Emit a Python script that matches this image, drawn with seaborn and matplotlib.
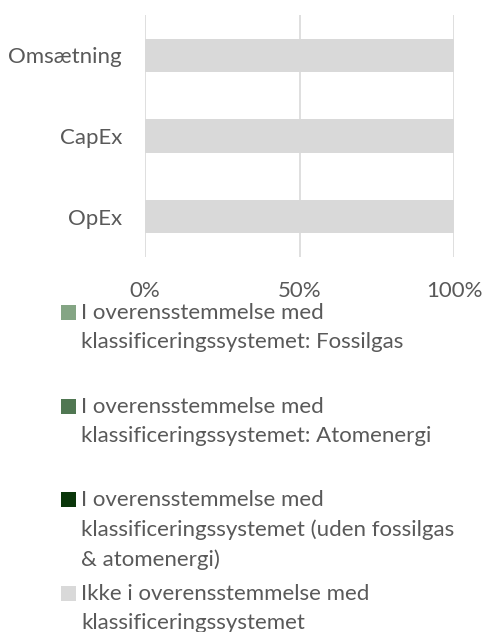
import matplotlib.pyplot as plt
import matplotlib.patches as mpatches
import seaborn as sns
import pandas as pd

# data (percent of total)
categories = ["Omsætning", "CapEx", "OpEx"]
fossilgas = [0, 0, 0]
atomenergi = [0, 0, 0]
other_aligned = [0, 0, 0]
not_aligned = [100, 100, 100]

labels = [
    "I overensstemmelse med\nklassificeringssystemet: Fossilgas",
    "I overensstemmelse med\nklassificeringssystemet: Atomenergi",
    "I overensstemmelse med\nklassificeringssystemet (uden fossilgas\n& atomenergi)",
    "Ikke i overensstemmelse med\nklassificeringssystemet",
]
colors = ["#84A584", "#507752", "#0A360A", "#D9D9D9"]
text_color = "#595959"
fs = 16

sns.set_style("white")
plt.rcParams["font.family"] = ["Lato", "DejaVu Sans"]

df = pd.DataFrame({"cat": categories, "fossil": fossilgas, "atom": atomenergi,
                   "other": other_aligned, "not": not_aligned})
layers = ["fossil", "atom", "other", "not"]
cum = df[layers].cumsum(axis=1)

fig = plt.figure(figsize=(4.83, 6.32), dpi=100)
ax = fig.add_axes([145 / 483, 1 - 257 / 632, (454 - 145) / 483, (257 - 15) / 632])

# stacked bars: draw the running totals from the top layer down
for layer, col in reversed(list(zip(layers, colors))):
    sns.barplot(x=cum[layer], y=df["cat"], color=col, orient="h", width=0.41,
                ax=ax, saturation=1, linewidth=0)

ax.set_xlim(0, 100)
ax.set_ylim(2.5, -0.5)
ax.set_xticks([0, 50, 100])
ax.set_xticklabels(["0%", "50%", "100%"])
ax.set_xlabel("")
ax.set_ylabel("")
ax.grid(axis="x", color="#D9D9D9", linewidth=1.2)
ax.set_axisbelow(True)
for s in ax.spines.values():
    s.set_visible(False)
ax.tick_params(axis="both", length=0, labelsize=fs, colors=text_color)
ax.tick_params(axis="x", pad=17)
ax.tick_params(axis="y", pad=16.5)

# legend drawn by hand, one entry per slot
entry_y = [312, 406, 499, 593]
for lab, col, yc in zip(labels, colors, entry_y):
    fig.patches.append(mpatches.Rectangle((61 / 483, 1 - (yc + 7.5) / 632), 15 / 483, 15 / 632,
                                          transform=fig.transFigure, facecolor=col,
                                          edgecolor="none"))
    fig.text(81 / 483, 1 - (yc - 9) / 632, lab, ha="left", va="top", fontsize=fs,
             color=text_color, linespacing=1.58)

fig.savefig("out.png", dpi=100)
